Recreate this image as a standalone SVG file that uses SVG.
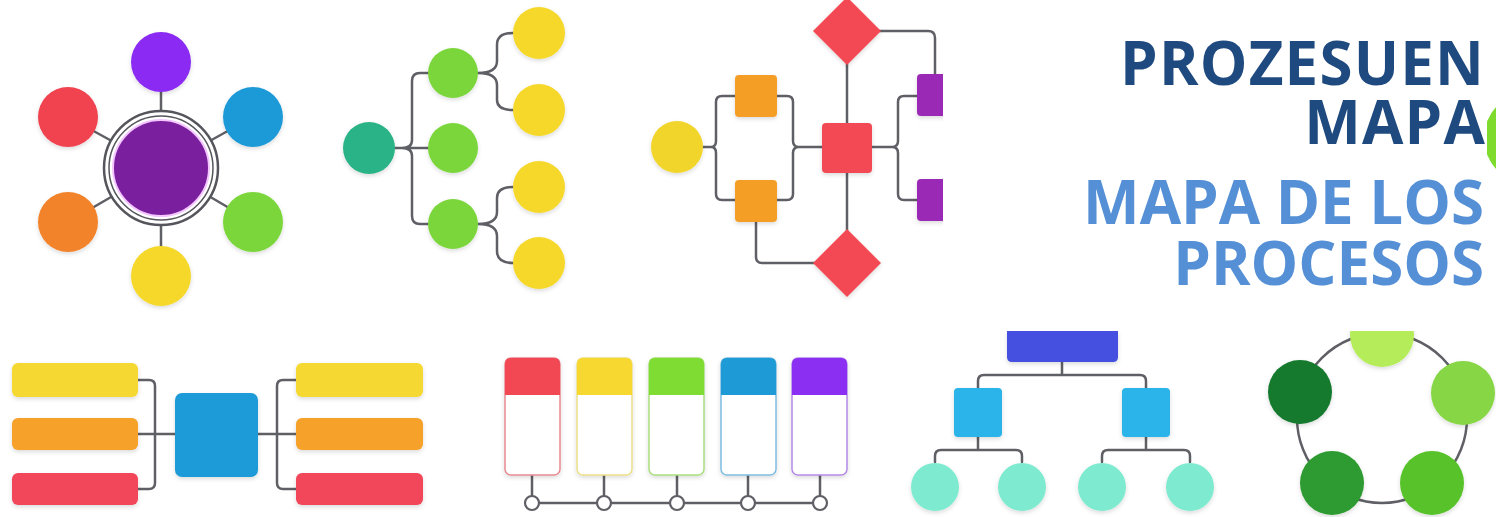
<svg xmlns="http://www.w3.org/2000/svg" width="1496" height="517" viewBox="0 0 1496 517">
<style>
.ln{fill:none;stroke:#5f5f66;stroke-width:2.5;stroke-linecap:round;stroke-linejoin:round}
.sh{filter:url(#ds)}
.t1{font-family:"Open Sans","Noto Sans","Liberation Sans",sans-serif;font-weight:700;font-size:60px;letter-spacing:1.2px;fill:#1f4a7f;text-anchor:end}
.t2{font-family:"Open Sans","Noto Sans","Liberation Sans",sans-serif;font-weight:700;font-size:60px;fill:#5590d6;text-anchor:end}
.card{fill:#fff;stroke-width:1.5}
.dot{fill:#fff;stroke:#5f5f66;stroke-width:2.2}
</style>
<defs>
<filter id="ds" x="-30%" y="-30%" width="160%" height="160%">
<feDropShadow dx="0" dy="2" stdDeviation="2" flood-color="#000" flood-opacity="0.14"/>
</filter>
</defs>
<rect width="1496" height="517" fill="#fff"/>

<!-- peeking green circle at right edge -->
<circle cx="1530" cy="138" r="46" fill="#7fdc2f"/>

<!-- connectors -->
<g id="connectors">
  <!-- radial -->
  <path class="ln" d="M161,168 L161,62 M161,168 L68,117 M161,168 L253,117 M161,168 L68,222 M161,168 L253,222 M161,168 L161,276"/>
  <!-- tree -->
  <path class="ln" d="M395,148 H428 M428,73 H420 Q412,73 412,81 V140 Q412,148 402,148 M428,224 H420 Q412,224 412,216 V156 Q412,148 402,148"/>
  <path class="ln" d="M478,73 C490,73 497,70 497,61 V45 C497,37 503,33 513,33 M478,73 C490,73 497,76 497,85 V100 C497,107 503,110 513,110"/>
  <path class="ln" d="M478,224 C490,224 497,221 497,212 V198 C497,190 503,187 513,187 M478,224 C490,224 497,227 497,236 V251 C497,259 503,263 513,263"/>
  <!-- flowchart -->
  <path class="ln" d="M703,147 H711 Q716,147 716,141 V102 Q716,96 722,96 H735 M711,147 Q716,147 716,153 V194 Q716,200 722,200 H735"/>
  <path class="ln" d="M777,96 H787 Q793,96 793,102 V141 Q793,147 799,147 H822 M777,200 H787 Q793,200 793,194 V153 Q793,147 799,147"/>
  <path class="ln" d="M872,147 H892 Q898,147 898,141 V102 Q898,96 904,96 H917 M892,147 Q898,147 898,153 V194 Q898,200 904,200 H917"/>
  <path class="ln" d="M847,60 V232 M878,31 H928 Q935,31 935,38 V76 M756,220 V257 Q756,263 762,263 H816"/>
  <!-- bracket bars -->
  <path class="ln" d="M136,380 H149 Q155,380 155,386 V483 Q155,489 149,489 H136 M136,434 H176"/>
  <path class="ln" d="M298,380 H283 Q277,380 277,386 V483 Q277,489 283,489 H298 M257,434 H298"/>
  <!-- cards -->
  <path class="ln" d="M532,474 V503 M604,474 V503 M677,474 V503 M748,474 V503 M820,474 V503 M532,503 H820"/>
  <!-- org chart -->
  <path class="ln" d="M1062,360 V375 M978,388 V381 Q978,375 984,375 H1140 Q1146,375 1146,381 V388"/>
  <path class="ln" d="M978,436 V450 M935,462 V456 Q935,450 941,450 H1016 Q1022,450 1022,456 V462"/>
  <path class="ln" d="M1146,436 V450 M1102,462 V456 Q1102,450 1108,450 H1184 Q1190,450 1190,456 V462"/>
  <!-- cycle -->
  <circle class="ln" cx="1382" cy="418" r="85" stroke-width="3"/>
</g>

<!-- radial diagram -->
<g id="radial-center">
  <circle cx="161" cy="168" r="57" fill="#fff" stroke="#55555c" stroke-width="2.5"/>
  <circle cx="161" cy="168" r="52" fill="#fff" stroke="#55555c" stroke-width="1.5"/>
  <circle cx="161" cy="168" r="48" fill="#7a1f9e" stroke="#f4c6ff" stroke-width="2"/>
</g>
<g id="radial-purple"><circle class="sh" cx="161" cy="62" r="30" fill="#8a2cf2"/></g>
<g id="radial-red"><circle class="sh" cx="68" cy="117" r="30" fill="#f0424f"/></g>
<g id="radial-blue"><circle class="sh" cx="253" cy="117" r="30" fill="#1f9ad8"/></g>
<g id="radial-orange"><circle class="sh" cx="68" cy="222" r="30" fill="#f2832a"/></g>
<g id="radial-green"><circle class="sh" cx="253" cy="222" r="30" fill="#7ad63a"/></g>
<g id="radial-yellow"><circle class="sh" cx="161" cy="276" r="30" fill="#f5d82a"/></g>

<!-- tree diagram -->
<g id="tree-root"><circle class="sh" cx="369" cy="148" r="26" fill="#2bb386"/></g>
<g id="tree-g1"><circle class="sh" cx="453" cy="73" r="25" fill="#7ad63a"/></g>
<g id="tree-g2"><circle class="sh" cx="453" cy="148" r="25" fill="#7ad63a"/></g>
<g id="tree-g3"><circle class="sh" cx="453" cy="224" r="25" fill="#7ad63a"/></g>
<g id="tree-y1"><circle class="sh" cx="539" cy="33" r="26" fill="#f5d82a"/></g>
<g id="tree-y2"><circle class="sh" cx="539" cy="110" r="26" fill="#f5d82a"/></g>
<g id="tree-y3"><circle class="sh" cx="539" cy="187" r="26" fill="#f5d82a"/></g>
<g id="tree-y4"><circle class="sh" cx="539" cy="263" r="26" fill="#f5d82a"/></g>

<!-- flowchart -->
<g id="flow-start"><circle class="sh" cx="677" cy="147" r="26" fill="#f2d52a"/></g>
<g id="flow-o1"><rect class="sh" x="735" y="75" width="42" height="42" rx="4" fill="#f59e25"/></g>
<g id="flow-o2"><rect class="sh" x="735" y="180" width="42" height="42" rx="4" fill="#f59e25"/></g>
<g id="flow-center"><rect class="sh" x="822" y="123" width="50" height="50" rx="4" fill="#f24a55"/></g>
<g id="flow-d1"><polygon class="sh" points="847,-3 881,31 847,65 813,31" fill="#f24a55"/></g>
<g id="flow-d2"><polygon class="sh" points="847,229 881,263 847,297 813,263" fill="#f24a55"/></g>
<g id="flow-p1"><rect class="sh" x="917" y="74" width="42" height="42" rx="4" fill="#9a2cb5"/></g>
<g id="flow-p2"><rect class="sh" x="917" y="179" width="42" height="42" rx="4" fill="#9a2cb5"/></g>

<!-- bracket bars -->
<g id="bar-l1"><rect class="sh" x="12" y="363" width="126" height="34" rx="6" fill="#f5d930"/></g>
<g id="bar-l2"><rect class="sh" x="12" y="418" width="126" height="32" rx="6" fill="#f5a12a"/></g>
<g id="bar-l3"><rect class="sh" x="12" y="473" width="126" height="32" rx="6" fill="#f2475a"/></g>
<g id="bar-center"><rect class="sh" x="175" y="393" width="83" height="84" rx="7" fill="#1f9bd8"/></g>
<g id="bar-r1"><rect class="sh" x="296" y="363" width="127" height="34" rx="6" fill="#f5d930"/></g>
<g id="bar-r2"><rect class="sh" x="296" y="418" width="127" height="32" rx="6" fill="#f5a12a"/></g>
<g id="bar-r3"><rect class="sh" x="296" y="473" width="127" height="32" rx="6" fill="#f2475a"/></g>

<!-- cards -->
<g id="card-red">
  <rect class="card sh" x="505" y="358" width="55" height="117" rx="6" stroke="#e88a92"/>
  <path d="M505,395 V364 Q505,358 511,358 H554 Q560,358 560,364 V395 Z" fill="#f24854"/>
</g>
<g id="card-yellow">
  <rect class="card sh" x="577" y="358" width="55" height="117" rx="6" stroke="#ece08a"/>
  <path d="M577,395 V364 Q577,358 583,358 H626 Q632,358 632,364 V395 Z" fill="#f7d830"/>
</g>
<g id="card-green">
  <rect class="card sh" x="649" y="358" width="55" height="117" rx="6" stroke="#a9de80"/>
  <path d="M649,395 V364 Q649,358 655,358 H698 Q704,358 704,364 V395 Z" fill="#7fdc33"/>
</g>
<g id="card-blue">
  <rect class="card sh" x="721" y="358" width="55" height="117" rx="6" stroke="#7fbde0"/>
  <path d="M721,395 V364 Q721,358 727,358 H770 Q776,358 776,364 V395 Z" fill="#1e9bd7"/>
</g>
<g id="card-purple">
  <rect class="card sh" x="792" y="358" width="55" height="117" rx="6" stroke="#b48ae6"/>
  <path d="M792,395 V364 Q792,358 798,358 H841 Q847,358 847,364 V395 Z" fill="#8b2ff2"/>
</g>
<g id="card-dots">
  <circle class="dot" cx="532" cy="503" r="7"/>
  <circle class="dot" cx="604" cy="503" r="7"/>
  <circle class="dot" cx="677" cy="503" r="7"/>
  <circle class="dot" cx="748" cy="503" r="7"/>
  <circle class="dot" cx="820" cy="503" r="7"/>
</g>

<!-- org chart -->
<g id="org-top"><path class="sh" d="M1007,331 H1118 V357 Q1118,362 1113,362 H1012 Q1007,362 1007,357 Z" fill="#4550e0"/></g>
<g id="org-l"><rect class="sh" x="954" y="388" width="48" height="49" rx="4" fill="#29b4ea"/></g>
<g id="org-r"><rect class="sh" x="1122" y="388" width="48" height="49" rx="4" fill="#29b4ea"/></g>
<g id="org-c1"><circle class="sh" cx="935" cy="487" r="24" fill="#7eebd0"/></g>
<g id="org-c2"><circle class="sh" cx="1022" cy="487" r="24" fill="#7eebd0"/></g>
<g id="org-c3"><circle class="sh" cx="1102" cy="487" r="24" fill="#7eebd0"/></g>
<g id="org-c4"><circle class="sh" cx="1190" cy="487" r="24" fill="#7eebd0"/></g>

<!-- cycle -->
<g id="cyc-top"><circle class="sh" cx="1382" cy="335" r="32" fill="#b5ec5a"/></g>
<g id="cyc-left"><circle class="sh" cx="1300" cy="392" r="32" fill="#137a2e"/></g>
<g id="cyc-right"><circle class="sh" cx="1463" cy="393" r="32" fill="#86d645"/></g>
<g id="cyc-bl"><circle class="sh" cx="1332" cy="483" r="32" fill="#2e9b30"/></g>
<g id="cyc-br"><circle class="sh" cx="1432" cy="483" r="32" fill="#58c22a"/></g>

<!-- title panel -->
<g id="title">
  <rect x="943" y="0" width="544" height="331" fill="#fff"/>
  <text class="t1" x="1485" y="85">PROZESUEN</text>
  <text class="t1" x="1486" y="144">MAPA</text>
  <text class="t2" x="1484" y="224">MAPA DE LOS</text>
  <text class="t2" x="1484" y="285">PROCESOS</text>
</g>
</svg>
